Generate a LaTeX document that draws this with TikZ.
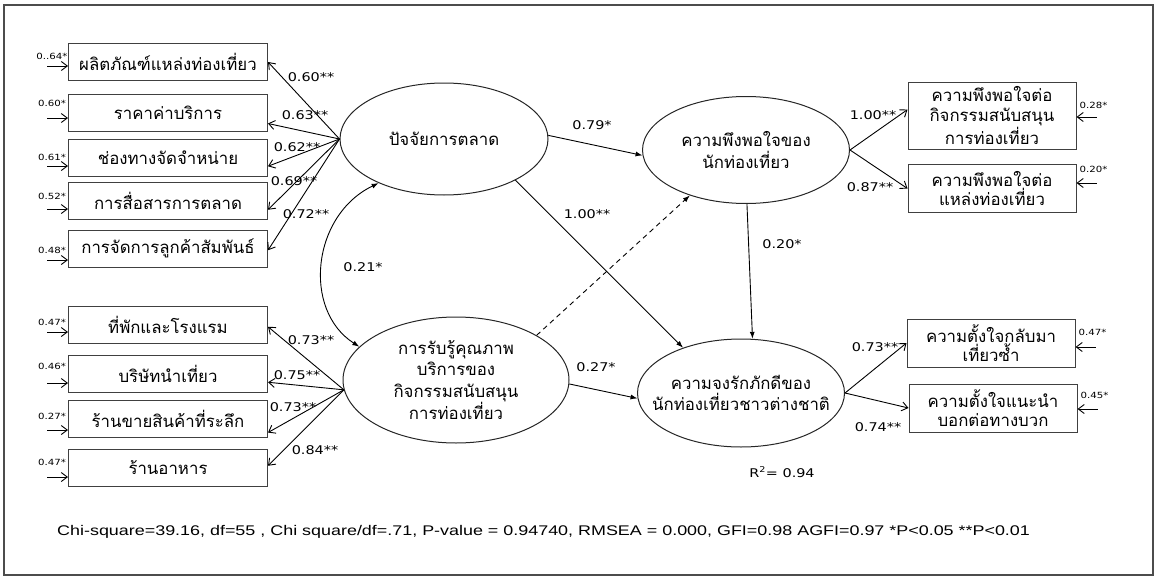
\documentclass[tikz,border=0pt]{standalone}
\usepackage{fontspec}
\setmainfont[FakeStretch=1.2]{DejaVu Sans}
\newfontfamily\thaifont[Script=Thai]{Loma}
\newfontfamily\statfont[FakeStretch=1.28]{Liberation Sans}
\usetikzlibrary{arrows.meta,positioning,shapes.geometric}

\tikzset{
  obs/.style={draw=black!75, line width=1pt, minimum width=199pt, minimum height=37pt,
    inner sep=2pt, align=center, font=\thaifont\fontsize{16.8}{19.5}\selectfont},
  ind/.style={obs, minimum width=168pt, minimum height=48pt},
  lat/.style={draw=black!85, line width=1pt, ellipse, inner xsep=-45pt, inner ysep=-18pt,
    align=center, font=\thaifont\fontsize{16.8}{21.5}\selectfont},
  coef/.style={inner sep=1pt, font=\fontsize{12}{14}\selectfont},
  errlab/.style={inner sep=0pt, font=\fontsize{8.5}{10}\selectfont},
  load/.style={-{Straight Barb[length=6pt,width=9pt]}, line width=0.9pt},
  regr/.style={-{Latex[length=7pt,width=5pt]}, line width=0.9pt},
}

\begin{document}
\begin{tikzpicture}[x=1pt,y=-1pt]
                \useasboundingbox (0,0) rectangle (1158,578);
                \draw[black!70, line width=2pt] (4,5) rectangle (1153,575);

                % indicators
                \node[obs] (b1) at (168,62) {ผลิตภัณฑ์แหล่งท่องเที่ยว};
                \node[obs] (b2) at (168,113) {ราคาค่าบริการ};
                \node[obs] (b3) at (168,157.5) {ช่องทางจัดจำหน่าย};
                \node[obs] (b4) at (168,201) {การสื่อสารการตลาด};
                \node[obs] (b5) at (168,248.5) {การจัดการลูกค้าสัมพันธ์};
                \node[obs] (b6) at (168,325) {ที่พักและโรงแรม};
                \node[obs] (b7) at (168,373.5) {บริษัทนำเที่ยว};
                \node[obs] (b8) at (168,418.5) {ร้านขายสินค้าที่ระลึก};
                \node[obs] (b9) at (168,467.5) {ร้านอาหาร};
                \node[ind, minimum height=67pt] (r1) at (992,115.5) {ความพึงพอใจต่อ\\กิจกรรมสนับสนุน\\การท่องเที่ยว};
                \node[ind] (r2) at (992,188.5) {ความพึงพอใจต่อ\\แหล่งท่องเที่ยว};
                \node[ind] (r3) at (991,343) {ความตั้งใจกลับมา\\เที่ยวซ้ำ};
                \node[ind] (r4) at (993,408) {ความตั้งใจแนะนำ\\บอกต่อทางบวก};

                % latent variables
                \node[lat, minimum width=208pt, minimum height=112pt] (mk) at (444,139) {ปัจจัยการตลาด};
                \node[lat, minimum width=207pt, minimum height=107pt] (sat) at (746,150) {ความพึงพอใจของ\\นักท่องเที่ยว};
                \node[lat, minimum width=226pt, minimum height=126pt] (qual) at (456,380) {การรับรู้คุณภาพ\\บริการของ\\กิจกรรมสนับสนุน\\การท่องเที่ยว};
                \node[lat, minimum width=207pt, minimum height=108pt] (loy) at (741,393) {ความจงรักภักดีของ\\นักท่องเที่ยวชาวต่างชาติ};

                \foreach \b/\a in {b1/0,b2/-6,b3/-5,b4/-5,b5/-1}
                    \draw[load] (mk.west) -- (\b.\a);
                \foreach \b/\a in {b6/-1,b7/-5,b8/-8,b9/1}
                    \draw[load] (qual.185) -- (\b.\a);
                \draw[load] (sat.east) -- (r1.176);
                \draw[load] (sat.east) -- (r2.west);
                \draw[load] (loy.east) -- (r3.west);
                \draw[load] (loy.east) -- (r4.west);

                \draw[regr] (mk.2) -- (sat.183);
                \draw[regr] (mk.-30) -- (loy.142);
                \draw[regr, dash pattern=on 5pt off 4pt] (qual.29) -- (sat.219);
                \draw[regr] (qual.-2) -- (loy.183);
                \draw[regr] (sat.271) -- (loy.78);
                \draw[regr, {Latex[length=7pt,width=5pt]}-{Latex[length=7pt,width=5pt]}]
                    (mk.214) .. controls (312,215) and (302,310) .. (qual.161);

                % error terms
                \foreach \i/\v/\u/\l in {1/0..64*/-4/10,2/0.60*/-5/15,3/0.61*/-8.5/9,4/0.52*/-8/13,5/0.48*/-11.5/10,
                                         6/0.47*/-7/10,7/0.46*/-9.5/17,8/0.27*/-11.5/14,9/0.47*/-9.5/15}{
                    \coordinate (s\i) at ([xshift=-21pt,yshift=\u pt]b\i.west);
                    \draw[load] (s\i) -- ([yshift=\u pt]b\i.west);
                    \node[errlab] (t\i) at ([xshift=-16pt,yshift=\u pt+\l pt]b\i.west) {\v};
                }
                \foreach \i/\v/\u/\l in {1/0.28*/-1.5/12,2/0.20*/5.5/14,3/0.47*/-4/15,4/0.45*/-1/14}{
                    \coordinate (q\i) at ([xshift=20pt,yshift=\u pt]r\i.east);
                    \draw[load] (q\i) -- ([yshift=\u pt]r\i.east);
                    \node[errlab] (p\i) at ([xshift=17pt,yshift=\u pt+\l pt]r\i.east) {\v};
                }

                % coefficients
                \node[coef] (c1) at (311,77) {0.60**};
                \node[coef] (c2) at (305,115) {0.63**};
                \node[coef] (c3) at (297,147) {0.62**};
                \node[coef] (c4) at (294,181) {0.69**};
                \node[coef] (c5) at (306,214) {0.72**};
                \node[coef] (c6) at (311,340) {0.73**};
                \node[coef] (c7) at (297,375) {0.75**};
                \node[coef] (c8) at (293,407) {0.73**};
                \node[coef] (c9) at (315,450) {0.84**};
                \node[coef] (cv) at (363,267) {0.21*};
                \node[coef] (g1) at (592,125) {0.79*};
                \node[coef] (g2) at (587,214) {1.00**};
                \node[coef] (g3) at (596,367) {0.27*};
                \node[coef] (g4) at (782,244) {0.20*};
                \node[coef] (d1) at (873,115) {1.00**};
                \node[coef] (d2) at (870,187) {0.87**};
                \node[coef] (d3) at (875,347) {0.73**};
                \node[coef] (d4) at (878,427) {0.74**};
                \node[coef] (rsq) at (782,472) {R\textsuperscript{2}= 0.94};

                \node[anchor=west, inner sep=0pt, font=\statfont\fontsize{14}{16}\selectfont] (fit) at (57,532)
                    {Chi-square=39.16, df=55 , Chi square/df=.71, P-value = 0.94740, RMSEA = 0.000, GFI=0.98 AGFI=0.97 *P<0.05 **P<0.01};
\end{tikzpicture}
\end{document}
